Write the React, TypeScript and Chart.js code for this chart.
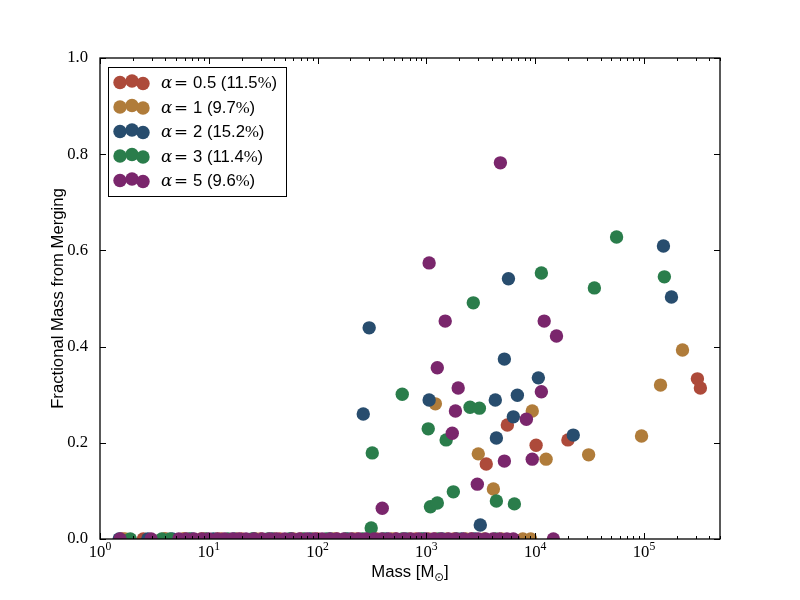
import React, { useEffect, useRef } from "react";
import { Chart, registerables } from "chart.js";

Chart.register(...registerables);

// ---- data ----
const seriesLabels = ["0.5", "1", "2", "3", "5"];
const seriesPct = ["11.5", "9.7", "15.2", "11.4", "9.6"];
const seriesColors = ["#AD4A3A", "#B07C3A", "#284D6E", "#2A7D4B", "#7A266C"];

const redM = [3550, 5550, 10200, 20000, 310000, 330000];
const redF = [0.156, 0.237, 0.195, 0.206, 0.333, 0.314];
const redZeroM = [1.6, 2.5, 4.0, 6, 9, 13, 20, 30, 45, 70, 100, 150, 230, 350, 520, 800, 1200, 1800, 2600];

const goldM = [1210, 3000, 4130, 9400, 12600, 31000, 95000, 142000, 226000];
const goldF = [0.281, 0.177, 0.104, 0.266, 0.166, 0.175, 0.214, 0.32, 0.393];
const goldZeroM = [1.7, 3.9, 5.8, 8.5, 12, 18, 27, 40, 60, 90, 140, 210, 320, 480, 700, 1050, 1550, 2300, 3400, 4900, 7700, 9100];

const blueM = [263, 298, 1060, 3130, 4300, 4400, 5210, 5680, 6300, 6860, 10700, 22400, 151000, 179000];
const blueF = [0.26, 0.439, 0.289, 0.029, 0.289, 0.21, 0.374, 0.541, 0.254, 0.299, 0.335, 0.216, 0.609, 0.503];
const blueZeroM = [1.5, 2.75, 4.6, 7, 11, 17, 26, 38, 57, 85, 130, 190, 290, 430, 650, 950, 1400, 2100, 2800];

const greenM = [311, 318, 600, 1040, 1090, 1260, 1520, 1770, 2520, 2700, 3070, 4400, 6440, 11400, 35000, 56000, 154000];
const greenF = [0.023, 0.179, 0.301, 0.229, 0.067, 0.075, 0.206, 0.098, 0.274, 0.491, 0.272, 0.079, 0.073, 0.553, 0.522, 0.628, 0.545];
const greenZeroM = [1.9, 3.7, 4.4, 6.6, 9.5, 15, 25, 35, 55, 75, 120, 180, 260, 400, 600, 900, 1300, 1900, 4300];

const purpleM = [393, 1060, 1260, 1490, 1730, 1850, 1960, 2940, 4790, 5210, 8300, 9400, 11400, 12100, 15700];
const purpleF = [0.064, 0.574, 0.356, 0.453, 0.22, 0.266, 0.314, 0.114, 0.782, 0.162, 0.249, 0.166, 0.306, 0.453, 0.422];
const purpleZeroM = [1.53, 2.95, 5.3, 6.2, 7.3, 8.6, 10, 12, 14, 16.5, 19, 22, 26, 31, 36, 42, 50, 58, 68, 80, 95, 110, 130, 150, 175, 205, 240, 280, 330, 390, 450, 530, 620, 720, 850, 1000, 1170, 1370, 1600, 1880, 2200, 2600, 3000, 3500, 4100, 4700, 5500, 6300, 14700];

const xMin = 1;
const xMax = 500000;
const yTicks = [0, 0.2, 0.4, 0.6, 0.8, 1.0];
const xMajorExps = [0, 1, 2, 3, 4, 5];

const FS = 16.7;

function pts(m: number[], f: number[], z: number[]) {
  return [...m.map((v, i) => ({ x: v, y: f[i] })), ...z.map((v) => ({ x: v, y: 0 }))];
}

const allSeries = [
  pts(redM, redF, redZeroM),
  pts(goldM, goldF, goldZeroM),
  pts(blueM, blueF, blueZeroM),
  pts(greenM, greenF, greenZeroM),
  pts(purpleM, purpleF, purpleZeroM),
];

const overlayPlugin = {
  id: "overlay",
  afterDraw(chart: any) {
    const ctx = chart.ctx as CanvasRenderingContext2D;
    const { left, right, top, bottom } = chart.chartArea;
    const xs = chart.scales.x;
    const ys = chart.scales.y;
    ctx.save();
    // ticks
    ctx.strokeStyle = "#000";
    ctx.lineWidth = 1;
    const major = 6;
    const minor = 3;
    for (let k = 0; k <= 5; k++) {
      for (let m = 1; m <= 9; m++) {
        const v = m * Math.pow(10, k);
        if (v < xMin || v > xMax) continue;
        const px = Math.round(xs.getPixelForValue(v)) + 0.5;
        const len = m === 1 ? major : minor;
        ctx.beginPath();
        ctx.moveTo(px, bottom);
        ctx.lineTo(px, bottom - len);
        ctx.moveTo(px, top);
        ctx.lineTo(px, top + len);
        ctx.stroke();
      }
    }
    for (const t of yTicks) {
      const py = Math.round(ys.getPixelForValue(t)) + 0.5;
      ctx.beginPath();
      ctx.moveTo(left, py);
      ctx.lineTo(left + major, py);
      ctx.moveTo(right, py);
      ctx.lineTo(right - major, py);
      ctx.stroke();
    }
    // frame
    ctx.lineWidth = 1.3;
    ctx.strokeRect(left, top, right - left, bottom - top);

    // x tick labels
    ctx.fillStyle = "#000";
    ctx.textBaseline = "alphabetic";
    for (const k of xMajorExps) {
      const px = xs.getPixelForValue(Math.pow(10, k));
      ctx.font = `${FS}px "Liberation Serif"`;
      const w10 = ctx.measureText("10").width;
      ctx.font = `${FS * 0.7}px "Liberation Serif"`;
      const we = ctx.measureText(String(k)).width;
      const sx = px - (w10 + we) / 2;
      ctx.font = `${FS}px "Liberation Serif"`;
      ctx.textAlign = "left";
      ctx.fillText("10", sx, bottom + 18);
      ctx.font = `${FS * 0.7}px "Liberation Serif"`;
      ctx.fillText(String(k), sx + w10, bottom + 11);
    }

    // x title
    const parts: [string, string, number][] = [
      ["Mass [M", `${FS}px "Liberation Sans"`, 0],
      ["\u2299", `${FS * 0.7}px "DejaVu Sans"`, 4],
      ["]", `${FS}px "Liberation Sans"`, 0],
    ];
    let tw = 0;
    for (const [t, f] of parts) {
      ctx.font = f;
      tw += ctx.measureText(t).width;
    }
    let cx = (left + right) / 2 - tw / 2;
    for (const [t, f, dy] of parts) {
      ctx.font = f;
      ctx.fillText(t, cx, 577 + dy);
      cx += ctx.measureText(t).width;
    }

    // legend
    const lx0 = 108, ly0 = 67, lx1 = 286, ly1 = 196;
    ctx.fillStyle = "#fff";
    ctx.fillRect(lx0, ly0, lx1 - lx0, ly1 - ly0);
    ctx.strokeStyle = "#000";
    ctx.lineWidth = 1;
    ctx.strokeRect(lx0 + 0.5, ly0 + 0.5, lx1 - lx0, ly1 - ly0);
    const rowY = [82, 106.5, 131, 155.5, 180];
    const dotX = [120, 132, 143];
    const dotDy = [0.5, -1, 1.5];
    for (let i = 0; i < 5; i++) {
      const cy = rowY[i];
      ctx.fillStyle = seriesColors[i];
      for (let j = 0; j < 3; j++) {
        ctx.beginPath();
        ctx.arc(dotX[j], cy + dotDy[j], 6.7, 0, Math.PI * 2);
        ctx.fill();
      }
      ctx.fillStyle = "#000";
      const base = cy + 6;
      ctx.font = `italic ${FS}px "DejaVu Serif"`;
      ctx.fillText("\u03b1", 161, base);
      ctx.font = `${FS}px "DejaVu Serif"`;
      ctx.fillText("=", 174, base);
      ctx.font = `${FS}px "Liberation Sans"`;
      const s1 = `${seriesLabels[i]} (${seriesPct[i]}`;
      ctx.fillText(s1, 193, base);
      let x = 193 + ctx.measureText(s1).width;
      ctx.font = `${FS}px "Liberation Serif"`;
      ctx.fillText("%", x, base);
      x += ctx.measureText("%").width;
      ctx.font = `${FS}px "Liberation Sans"`;
      ctx.fillText(")", x, base);
    }
    ctx.restore();
  },
};

export default function App() {
  const ref = useRef<HTMLCanvasElement | null>(null);
  useEffect(() => {
    document.body.style.margin = "0";
    const canvas = ref.current!;
    const chart = new Chart(canvas, {
      type: "scatter",
      data: {
        datasets: allSeries.map((d, i) => ({
          label: seriesLabels[i],
          data: d,
          backgroundColor: seriesColors[i],
          borderColor: seriesColors[i],
          borderWidth: 0,
          pointRadius: 6.7,
          pointHoverRadius: 6.7,
          order: 5 - i,
          clip: 0,
        })),
      },
      options: {
        animation: false,
        responsive: false,
        devicePixelRatio: 1,
        layout: { padding: { top: 58, right: 80, bottom: 0, left: 0 } },
        plugins: { legend: { display: false }, tooltip: { enabled: false } },
        scales: {
          x: {
            type: "logarithmic",
            min: xMin,
            max: xMax,
            grid: { display: false, drawTicks: false },
            border: { display: false },
            ticks: { display: false },
            afterFit: (s: any) => {
              s.height = 61;
            },
          },
          y: {
            type: "linear",
            min: 0,
            max: 1,
            grid: { display: false, drawTicks: false },
            border: { display: false },
            ticks: {
              stepSize: 0.2,
              padding: 12,
              color: "#000",
              font: { family: "Liberation Serif", size: FS },
              callback: (v: any) => Number(v).toFixed(1),
            },
            title: {
              display: true,
              text: "Fractional Mass from Merging",
              color: "#000",
              font: { family: "Liberation Sans", size: FS },
              padding: { top: 48, bottom: 0 },
            },
            afterFit: (s: any) => {
              s.width = 100;
            },
          },
        },
      },
      plugins: [overlayPlugin],
    });
    return () => chart.destroy();
  }, []);
  return <canvas ref={ref} width={800} height={600} style={{ display: "block" }} />;
}
